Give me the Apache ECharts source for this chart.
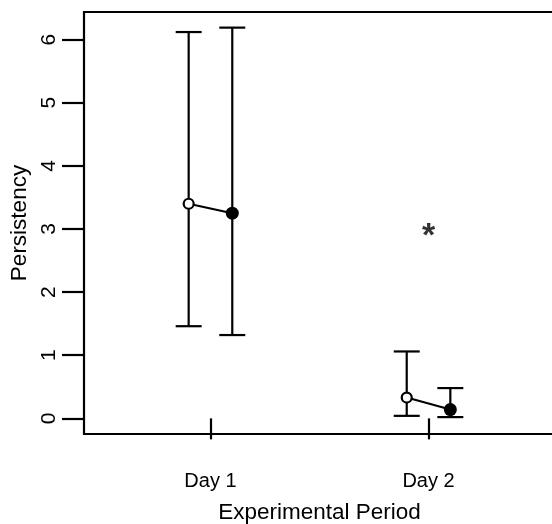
<!DOCTYPE html>
<html>
<head>
<meta charset="utf-8">
<script src="https://cdn.jsdelivr.net/npm/echarts@6/dist/echarts.min.js"></script>
<style>html,body{margin:0;padding:0;background:#fff;}#c{width:552px;height:524px;}</style>
</head>
<body>
<div id="c"></div>
<script>
var days = ['Day 1', 'Day 2'];
var dayPos = [1, 2];
var groupOffset = 0.1;
var openMean = [3.40, 0.33];
var openLow = [1.46, 0.04];
var openHigh = [6.12, 1.06];
var filledMean = [3.25, 0.14];
var filledLow = [1.32, 0.02];
var filledHigh = [6.19, 0.48];
var starDay = [2];
var starValue = [3];
var yTicks = [0, 1, 2, 3, 4, 5, 6];

var FONT = 'Liberation Sans, Arial, sans-serif';
var chart = echarts.init(document.getElementById('c'));

var openPts = dayPos.map(function (d, i) { return [d - groupOffset, openMean[i]]; });
var filledPts = dayPos.map(function (d, i) { return [d + groupOffset, filledMean[i]]; });
var errData = [];
dayPos.forEach(function (d, i) {
  errData.push([d - groupOffset, openLow[i], openHigh[i]]);
  errData.push([d + groupOffset, filledLow[i], filledHigh[i]]);
});

var LW = 2.2;
var series = [];
series.push({
  type: 'custom',
  data: errData,
  z: 1,
  renderItem: function (params, api) {
    var x = api.value(0);
    var lo = api.coord([x, api.value(1)]);
    var hi = api.coord([x, api.value(2)]);
    var hw = 13;
    var st = { stroke: '#000', lineWidth: LW };
    return {
      type: 'group',
      children: [
        { type: 'line', shape: { x1: lo[0], y1: lo[1], x2: hi[0], y2: hi[1] }, style: st },
        { type: 'line', shape: { x1: lo[0] - hw, y1: lo[1], x2: lo[0] + hw, y2: lo[1] }, style: st },
        { type: 'line', shape: { x1: hi[0] - hw, y1: hi[1], x2: hi[0] + hw, y2: hi[1] }, style: st }
      ]
    };
  }
});
dayPos.forEach(function (d, i) {
  series.push({
    type: 'line',
    data: [openPts[i], filledPts[i]],
    symbol: 'none',
    lineStyle: { color: '#000', width: LW },
    z: 2,
    silent: true
  });
});
series.push({
  type: 'scatter',
  data: openPts,
  symbol: 'circle',
  symbolSize: 10,
  itemStyle: { color: '#fff', borderColor: '#000', borderWidth: 2.2, opacity: 1 },
  z: 3
});
series.push({
  type: 'scatter',
  data: filledPts,
  symbol: 'circle',
  symbolSize: 13,
  itemStyle: { color: '#000', borderColor: '#000', borderWidth: 0, opacity: 1 },
  z: 3
});
series.push({
  type: 'scatter',
  data: starDay.map(function (d, i) { return [d, starValue[i]]; }),
  symbolSize: 0,
  label: {
    show: true,
    position: 'inside',
    formatter: '*',
    color: '#000',
    fontFamily: FONT,
    fontWeight: 'bold',
    fontSize: 34,
    offset: [0, 8]
  },
  z: 4
});

chart.setOption({
  animation: false,
  backgroundColor: '#fff',
  grid: {
    show: true,
    left: 84,
    top: 12,
    width: 471,
    height: 422,
    outerBoundsMode: 'none',
    containLabel: false,
    borderColor: '#000',
    borderWidth: 2.2,
    backgroundColor: 'transparent'
  },
  xAxis: {
    type: 'value',
    min: 0.42,
    max: 2.58,
    splitLine: { show: false },
    axisLine: { show: false },
    axisTick: { show: true, length: 21, lineStyle: { color: '#000', width: LW }, customValues: dayPos },
    axisLabel: {
      show: true,
      customValues: dayPos,
      margin: 37,
      color: '#000',
      fontFamily: FONT,
      fontSize: 20,
      formatter: function (v) { var i = dayPos.indexOf(v); return i >= 0 ? days[i] : ''; }
    },
    name: 'Experimental Period',
    nameLocation: 'middle',
    nameGap: 67,
    nameTextStyle: { color: '#000', fontFamily: FONT, fontSize: 22.5 }
  },
  yAxis: {
    type: 'value',
    min: -0.2476,
    max: 6.4376,
    splitLine: { show: false },
    axisLine: { show: false },
    axisTick: { show: true, length: 22, lineStyle: { color: '#000', width: LW }, customValues: yTicks },
    axisLabel: {
      show: true,
      customValues: yTicks,
      rotate: 90,
      margin: 24,
      color: '#000',
      fontFamily: FONT,
      fontSize: 21
    },
    name: 'Persistency',
    nameLocation: 'middle',
    nameGap: 49,
    nameTextStyle: { color: '#000', fontFamily: FONT, fontSize: 22.5 }
  },
  series: series
});
</script>
</body>
</html>
